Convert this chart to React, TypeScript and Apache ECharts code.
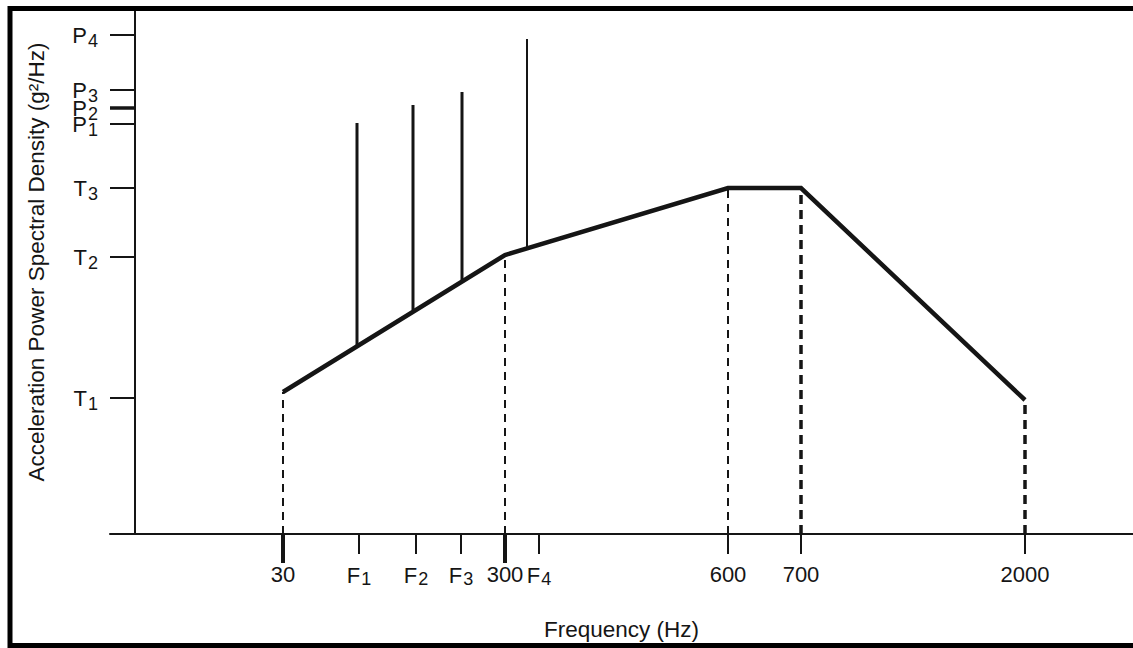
import React, { useEffect, useRef } from "react";
import * as echarts from "echarts";

// Schematic test-profile (positions in schematic units along each axis)
const freqTickLabels = ["30", "F1", "F2", "F3", "300", "F4", "600", "700", "2000"];
const freqTickPos = [148, 224, 281, 326, 370, 404, 593, 666, 890];
const majorFreqPos = [148, 370];

const levelLabels = ["T1", "T2", "T3", "P1", "P2", "P3", "P4"];
const levelPos = [136, 277, 346, 410, 426, 444, 499];
const majorLevelPos = [426];

const profileX = [148, 370, 593, 666, 890];
const profileY = [142, 279, 346, 346, 134];

const spikeX = [222, 278, 327, 392];
const spikeBase = [188, 224, 254, 287];
const spikeTop = [411, 429, 442, 495];

const FONT = "Liberation Sans, Arial, sans-serif";
const INK = "#151515";

function richLabel(text: string): string {
  const m = /^([A-Za-z])(\d)$/.exec(text);
  if (m) return `{m|${m[1]}}{s|${m[2]}}`;
  return `{m|${text}}`;
}

function lookup(value: number, pos: number[], labels: string[]): string {
  for (let i = 0; i < pos.length; i++) {
    if (Math.abs(pos[i] - value) < 0.5) return richLabel(labels[i]);
  }
  return "";
}

function makeRich(subDrop: number) {
  return {
    m: {
      fontSize: 22,
      fontFamily: FONT,
      color: INK,
    },
    s: {
      fontSize: 18,
      fontFamily: FONT,
      color: INK,
      padding: [subDrop, 0, 0, 1],
    },
  };
}

export default function App() {
  const ref = useRef<HTMLDivElement>(null);

  useEffect(() => {
    if (!ref.current) return;
    const chart = echarts.init(ref.current, undefined, { renderer: "svg" });

    const series: any[] = [];
    // dashed drop lines from axis to profile corners
    profileX.forEach((x, i) => {
      const heavy = i >= 3;
      series.push({
        type: "line",
        data: [
          [x, 0],
          [x, profileY[i]],
        ],
        symbol: "none",
        silent: true,
        lineStyle: { color: INK, width: heavy ? 3.5 : 2, type: heavy ? [9, 6] : [8, 6] },
        z: 2,
      });
    });
    // spikes
    spikeX.forEach((x, i) => {
      series.push({
        type: "line",
        data: [
          [x, spikeBase[i]],
          [x, spikeTop[i]],
        ],
        symbol: "none",
        silent: true,
        lineStyle: { color: INK, width: i === 3 ? 2 : 3, cap: "butt" },
        z: 3,
      });
    });
    // profile
    series.push({
      type: "line",
      data: profileX.map((x, i) => [x, profileY[i]]),
      symbol: "none",
      silent: true,
      lineStyle: { color: INK, width: 4.5, join: "miter" },
      z: 4,
    });

    chart.setOption({
      animation: false,
      backgroundColor: "#ffffff",
      grid: { left: 110, right: 0, top: 11, bottom: 114, containLabel: false, outerBoundsMode: "none" },
      xAxis: [
        {
          type: "value",
          min: -25,
          max: 998,
          position: "bottom",
          splitLine: { show: false },
          axisLine: { show: true, lineStyle: { color: INK, width: 2 } },
          axisTick: {
            show: true,
            customValues: freqTickPos.filter((p) => !majorFreqPos.includes(p)),
            length: 20,
            lineStyle: { color: INK, width: 2 },
          },
          axisLabel: {
            show: true,
            customValues: freqTickPos,
            margin: 29,
            formatter: (v: number) => lookup(v, freqTickPos, freqTickLabels),
            rich: makeRich(7),
          },
          name: "Frequency (Hz)",
          nameLocation: "middle",
          nameGap: 84,
          nameTextStyle: { fontSize: 22.5, fontFamily: FONT, color: INK },
        },
        {
          type: "value",
          min: -25,
          max: 998,
          position: "bottom",
          splitLine: { show: false },
          axisLine: { show: false },
          axisTick: {
            show: true,
            customValues: majorFreqPos,
            length: 29,
            lineStyle: { color: INK, width: 4 },
          },
          axisLabel: { show: false },
        },
      ],
      yAxis: [
        {
          type: "value",
          min: 0,
          max: 523,
          position: "left",
          splitLine: { show: false },
          axisLine: { show: true, onZero: true, lineStyle: { color: INK, width: 2 } },
          axisTick: {
            show: true,
            customValues: levelPos.filter((p) => !majorLevelPos.includes(p)),
            length: 25,
            lineStyle: { color: INK, width: 2 },
          },
          axisLabel: {
            show: true,
            customValues: levelPos,
            margin: 12,
            formatter: (v: number) => lookup(v, levelPos, levelLabels),
            rich: makeRich(11),
          },
        },
        {
          type: "value",
          min: 0,
          max: 523,
          position: "left",
          splitLine: { show: false },
          axisLine: { show: false, onZero: true },
          axisTick: {
            show: true,
            customValues: majorLevelPos,
            length: 25,
            lineStyle: { color: INK, width: 3.5 },
          },
          axisLabel: { show: false },
        },
      ],
      graphic: [
        {
          type: "rect",
          shape: { x: 10, y: 8.5, width: 1140, height: 637 },
          style: { fill: "none", stroke: "#000", lineWidth: 5 },
          silent: true,
          z: 10,
        },
        {
          type: "text",
          x: 36,
          y: 262,
          rotation: Math.PI / 2,
          style: {
            text: "Acceleration Power Spectral Density (g²/Hz)",
            fontSize: 22.5,
            fontFamily: FONT,
            fill: INK,
            align: "center",
            verticalAlign: "middle",
          },
          silent: true,
        },
      ],
      series,
    });

    return () => chart.dispose();
  }, []);

  return (
    <div
      ref={ref}
      style={{ position: "fixed", left: 0, top: 0, width: 1133, height: 648, background: "#fff" }}
    />
  );
}
